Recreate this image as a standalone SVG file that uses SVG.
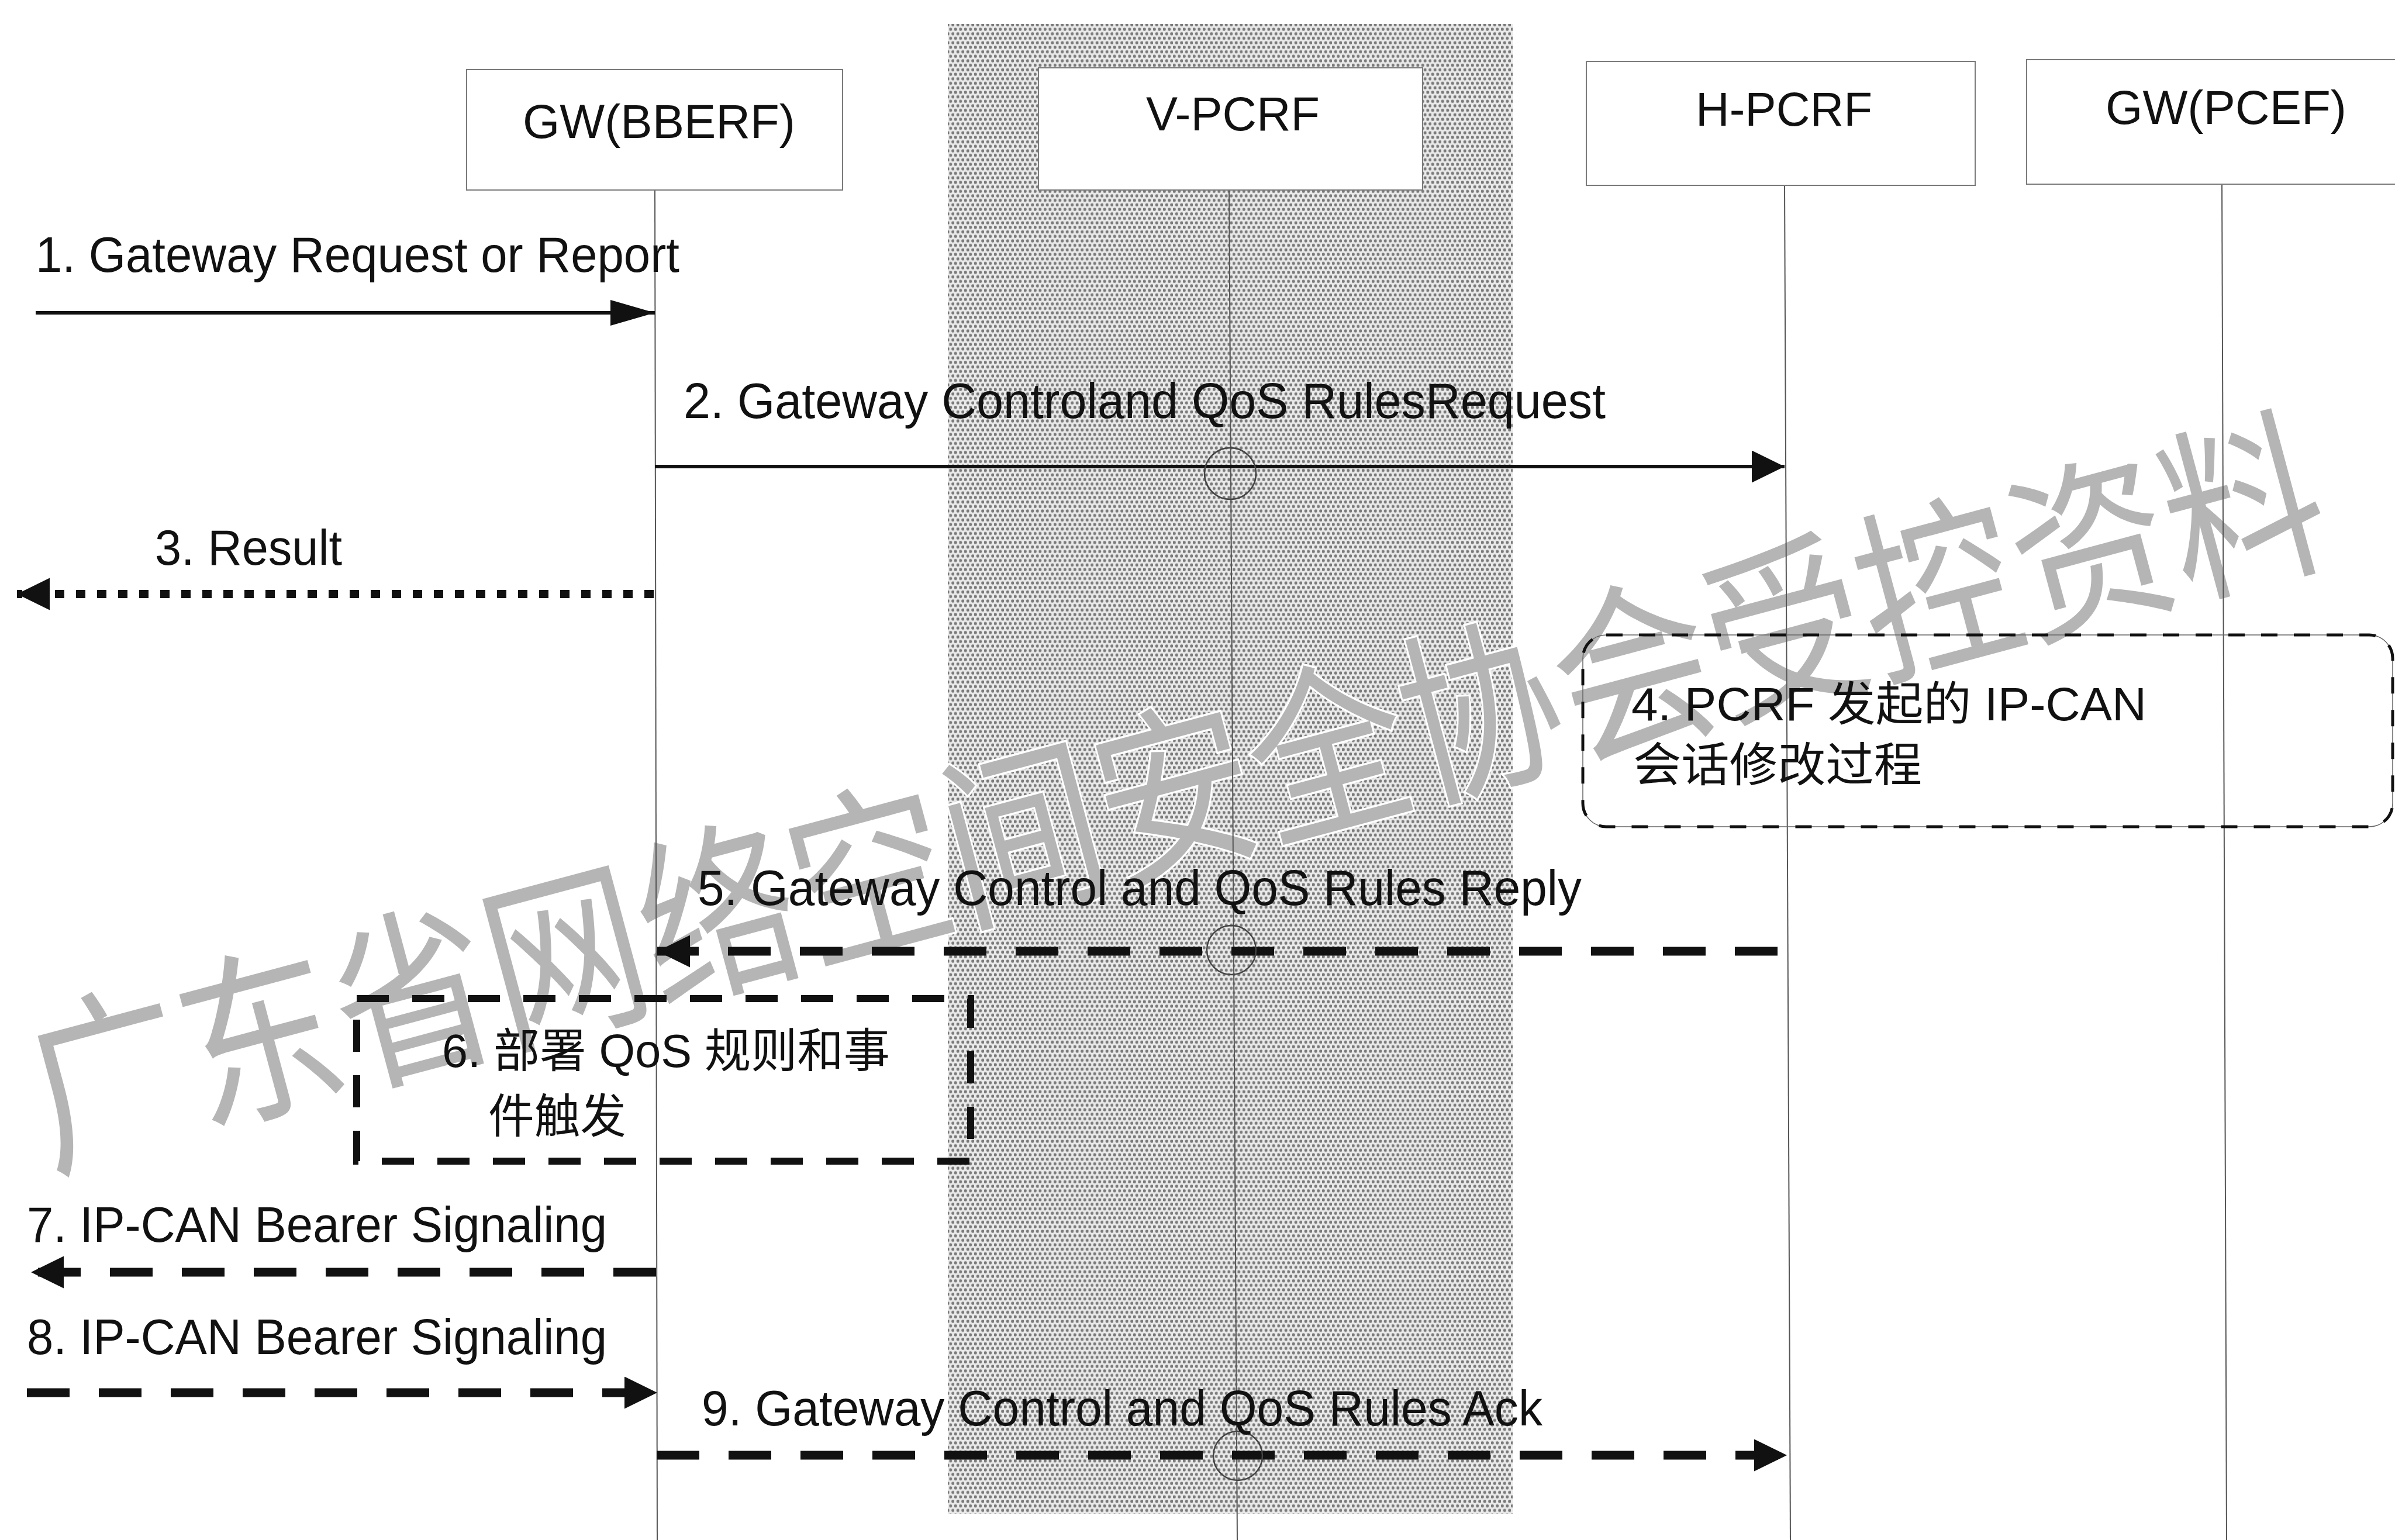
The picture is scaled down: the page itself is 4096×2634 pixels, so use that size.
<svg xmlns="http://www.w3.org/2000/svg" width="4096" height="2634" viewBox="0 0 4096 2634">
<style>
.box{fill:#fff;stroke:#7a7a7a;stroke-width:2}
.life{stroke:#555;stroke-width:2;fill:none}
.lbl{font-family:'Liberation Sans',Arial,sans-serif;font-size:82px;fill:#111}
.msg{font-family:'Liberation Sans',Arial,sans-serif;font-size:85px;fill:#111}
.note{font-family:'Liberation Sans','Noto Sans CJK SC',sans-serif;font-size:80px;fill:#111}
.solid{stroke:#111;stroke-width:6;fill:none}
.dash{stroke:#111;stroke-width:15;stroke-dasharray:73 50;fill:none}
.dot{stroke:#111;stroke-width:14;stroke-dasharray:16 20;fill:none}
.ring{fill:none;stroke:#444;stroke-width:2.5}
.wm{font-family:'Noto Sans CJK SC',sans-serif;font-size:270px;fill:#b5b5b5;stroke:#fff;stroke-width:6;paint-order:stroke}
</style>
<defs>
<pattern id="dots" width="8.5" height="15.4" patternUnits="userSpaceOnUse">
<rect width="8.5" height="15.4" fill="#e9e9e9"/>
<circle cx="2.125" cy="3.85" r="2.7" fill="#7a7a7a"/>
<circle cx="6.375" cy="11.55" r="2.7" fill="#7a7a7a"/>
</pattern>
<marker id="headLong" markerUnits="userSpaceOnUse" markerWidth="80" markerHeight="46" refX="76" refY="22" orient="auto">
<path d="M0,0 L76,22 L0,44 z" fill="#111"/>
</marker>
<marker id="head" markerUnits="userSpaceOnUse" markerWidth="60" markerHeight="58" refX="56" refY="27.5" orient="auto">
<path d="M0,0 L56,27.5 L0,55 z" fill="#111"/>
</marker>
</defs>
<rect width="4096" height="2634" fill="#fff"/>
<rect id="visited-domain" x="1621" y="41" width="966" height="2548" fill="url(#dots)"/>
<g transform="translate(2004 1335) rotate(-15) scale(1 1.18)">
<text class="wm" x="0" y="0" text-anchor="middle" dominant-baseline="central">广东省网络空间安全协会受控资料</text>
</g>

<g id="lifelines">
<line class="life" x1="1120" y1="325" x2="1124" y2="2634"/>
<line class="life" x1="2102" y1="325" x2="2116" y2="2634"/>
<line class="life" x1="3052" y1="317" x2="3062" y2="2634"/>
<line class="life" x1="3800" y1="315" x2="3808" y2="2634"/>
</g>

<g id="node-gw-bberf">
<rect class="box" x="798" y="119" width="643" height="206"/>
<text class="lbl" x="894" y="236" textLength="466" lengthAdjust="spacingAndGlyphs">GW(BBERF)</text>
</g>
<g id="node-v-pcrf">
<rect class="box" x="1776" y="116" width="657" height="209"/>
<text class="lbl" x="1960" y="223" textLength="297" lengthAdjust="spacingAndGlyphs">V-PCRF</text>
</g>
<g id="node-h-pcrf">
<rect class="box" x="2713" y="105" width="665" height="212"/>
<text class="lbl" x="2900" y="215" textLength="302" lengthAdjust="spacingAndGlyphs">H-PCRF</text>
</g>
<g id="node-gw-pcef">
<rect class="box" x="3466" y="102" width="700" height="213"/>
<text class="lbl" x="3601" y="212" textLength="412" lengthAdjust="spacingAndGlyphs">GW(PCEF)</text>
</g>

<g id="node-step4">
<rect x="2707" y="1086" width="1385" height="328" rx="40" fill="none" stroke="#666" stroke-width="1.5"/>
<rect x="2707" y="1086" width="1385" height="328" rx="40" fill="none" stroke="#111" stroke-width="5" stroke-dasharray="28 28"/>
<text class="note" x="2790" y="1232" textLength="881" lengthAdjust="spacingAndGlyphs">4. PCRF 发起的 IP-CAN</text>
<text class="note" x="2793" y="1336" textLength="494" lengthAdjust="spacingAndGlyphs">会话修改过程</text>
</g>
<g id="node-step6">
<rect x="610" y="1708" width="1050" height="278" fill="none" stroke="#111" stroke-width="12" stroke-dasharray="55 40"/>
<text class="note" x="756" y="1825" textLength="766" lengthAdjust="spacingAndGlyphs">6. 部署 QoS 规则和事</text>
<text class="note" x="835" y="1937" textLength="236" lengthAdjust="spacingAndGlyphs">件触发</text>
</g>

<g id="connectors">
<line class="solid" x1="61" y1="535" x2="1120" y2="535" marker-end="url(#headLong)"/>
<line class="solid" x1="1120" y1="798" x2="3052" y2="798" stroke-width="7" marker-end="url(#head)"/>
<circle class="ring" cx="2104" cy="810" r="44"/>
<line class="dot" x1="1118" y1="1016" x2="29" y2="1016" marker-end="url(#head)"/>
<line class="dash" x1="3040" y1="1627" x2="1124" y2="1627" marker-end="url(#head)"/>
<circle class="ring" cx="2106" cy="1625" r="42"/>
<line class="dash" x1="1122" y1="2176" x2="53" y2="2176" marker-end="url(#head)"/>
<line class="dash" x1="46" y1="2382" x2="1124" y2="2382" marker-end="url(#head)"/>
<line class="dash" x1="1123" y1="2489" x2="3056" y2="2489" marker-end="url(#head)"/>
<circle class="ring" cx="2117" cy="2490" r="42"/>
</g>

<g id="labels">
<text class="msg" x="61" y="465" textLength="1101" lengthAdjust="spacingAndGlyphs">1. Gateway Request or Report</text>
<text class="msg" x="1169" y="715" textLength="1577" lengthAdjust="spacingAndGlyphs">2. Gateway Controland QoS RulesRequest</text>
<text class="msg" x="265" y="966" textLength="320" lengthAdjust="spacingAndGlyphs">3. Result</text>
<text class="msg" x="1193" y="1548" textLength="1512" lengthAdjust="spacingAndGlyphs">5. Gateway Control and QoS Rules Reply</text>
<text class="msg" x="46" y="2124" textLength="992" lengthAdjust="spacingAndGlyphs">7. IP-CAN Bearer Signaling</text>
<text class="msg" x="46" y="2316" textLength="992" lengthAdjust="spacingAndGlyphs">8. IP-CAN Bearer Signaling</text>
<text class="msg" x="1200" y="2438" textLength="1438" lengthAdjust="spacingAndGlyphs">9. Gateway Control and QoS Rules Ack</text>
</g>
</svg>
